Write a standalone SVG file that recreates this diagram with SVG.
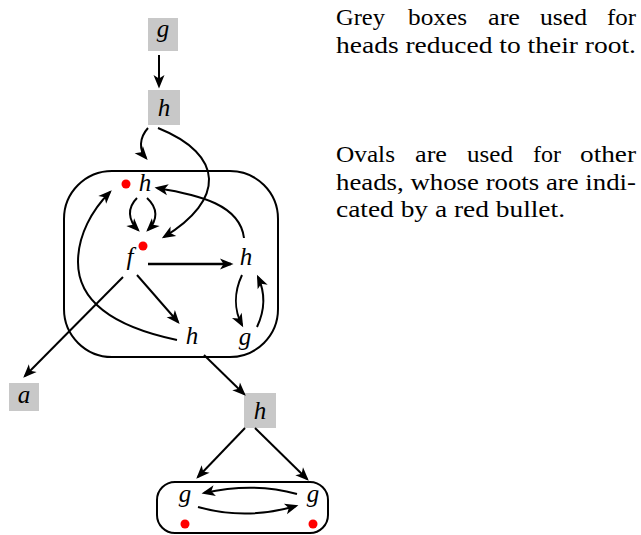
<svg xmlns="http://www.w3.org/2000/svg" width="641" height="535" viewBox="0 0 641 535">
<marker id="ah" markerUnits="userSpaceOnUse" viewBox="-14 -7 17 14" refX="0" refY="0" markerWidth="17" markerHeight="14" orient="auto">
<path d="M2.5,0 L-11,-5.5 L-7.5,0 L-11,5.5 Z" fill="#000" stroke="none"/>
</marker>

<g id="frames" fill="none" stroke="#000" stroke-width="2">
<rect id="oval-main" x="64" y="171" width="214" height="186" rx="48" ry="48"/>
<rect id="oval-bottom" x="157" y="482" width="171" height="51" rx="18" ry="18"/>
</g>

<g id="nodes" font-style="italic" font-size="25" text-anchor="middle">
<g id="node-g-top"><rect fill="#c8c8c8" x="148" y="18" width="30" height="33"/><text font-family="Liberation Serif" x="163" y="37">g</text></g>
<g id="node-h-top"><rect fill="#c8c8c8" x="148" y="90" width="32" height="35"/><text font-family="Liberation Serif" x="164" y="116">h</text></g>
<g id="node-h1"><circle fill="#ff0000" cx="126" cy="184" r="4.5"/><text font-family="Liberation Serif" x="145" y="191">h</text></g>
<g id="node-f"><circle fill="#ff0000" cx="143" cy="246" r="4.5"/><text font-family="Liberation Serif" x="130" y="265">f</text></g>
<g id="node-h2"><text font-family="Liberation Serif" x="246" y="265">h</text></g>
<g id="node-h3"><text font-family="Liberation Serif" x="192" y="344">h</text></g>
<g id="node-g1"><text font-family="Liberation Serif" x="245" y="345">g</text></g>
<g id="node-a"><rect fill="#c8c8c8" x="9" y="383" width="30" height="28"/><text font-family="Liberation Serif" x="24" y="403">a</text></g>
<g id="node-h-low"><rect fill="#c8c8c8" x="244" y="393" width="32" height="35"/><text font-family="Liberation Serif" x="260" y="419">h</text></g>
<g id="node-g2"><circle fill="#ff0000" cx="185" cy="524" r="4.5"/><text font-family="Liberation Serif" x="185" y="502">g</text></g>
<g id="node-g3"><circle fill="#ff0000" cx="313" cy="524" r="4.5"/><text font-family="Liberation Serif" x="313" y="502">g</text></g>
</g>

<g id="connectors" fill="none" stroke="#000" stroke-width="2" marker-end="url(#ah)">
<path d="M159,55 L159,86"/>
<path d="M148,128 C139,138 139,150 146,158"/>
<path d="M158,128 C225,155 225,200 164,237"/>
<path d="M137,198 C127,208 128,220 138,230"/>
<path d="M147,198 C158,208 158,220 148,230"/>
<path d="M244,238 C240,205 200,195 157,188"/>
<path d="M177,340 C120,328 78,305 78,262 C78,235 92,210 110,192"/>
<path stroke-width="2.6" d="M148,264 L231,264"/>
<path d="M137,275 L178,322"/>
<path d="M123,277 L25,376"/>
<path d="M242,275 C234,292 234,310 242,325"/>
<path d="M257,327 C265,310 265,292 258,277"/>
<path d="M204,355 L244,394"/>
<path d="M245,428 L198,477"/>
<path d="M255,428 L307,479"/>
<path d="M297,494 C265,485 235,486 204,493"/>
<path d="M198,507 C230,516 265,515 296,506"/>
</g>

<g id="caption" font-size="23" fill="#000">
<text font-family="Liberation Serif" y="25"><tspan x="336" textLength="49" lengthAdjust="spacingAndGlyphs">Grey</tspan><tspan x="408" textLength="59" lengthAdjust="spacingAndGlyphs">boxes</tspan><tspan x="488" textLength="32" lengthAdjust="spacingAndGlyphs">are</tspan><tspan x="540" textLength="47" lengthAdjust="spacingAndGlyphs">used</tspan><tspan x="607" textLength="29" lengthAdjust="spacingAndGlyphs">for</tspan></text>
<text font-family="Liberation Serif" x="336" y="53" textLength="300" lengthAdjust="spacingAndGlyphs">heads reduced to their root.</text>
<text font-family="Liberation Serif" y="162"><tspan x="336" textLength="59" lengthAdjust="spacingAndGlyphs">Ovals</tspan><tspan x="415" textLength="32" lengthAdjust="spacingAndGlyphs">are</tspan><tspan x="467" textLength="46" lengthAdjust="spacingAndGlyphs">used</tspan><tspan x="533" textLength="28" lengthAdjust="spacingAndGlyphs">for</tspan><tspan x="580" textLength="56" lengthAdjust="spacingAndGlyphs">other</tspan></text>
<text font-family="Liberation Serif" x="336" y="190" textLength="300" lengthAdjust="spacingAndGlyphs">heads, whose roots are indi-</text>
<text font-family="Liberation Serif" x="336" y="217" textLength="229" lengthAdjust="spacingAndGlyphs">cated by a red bullet.</text>
</g>
</svg>
